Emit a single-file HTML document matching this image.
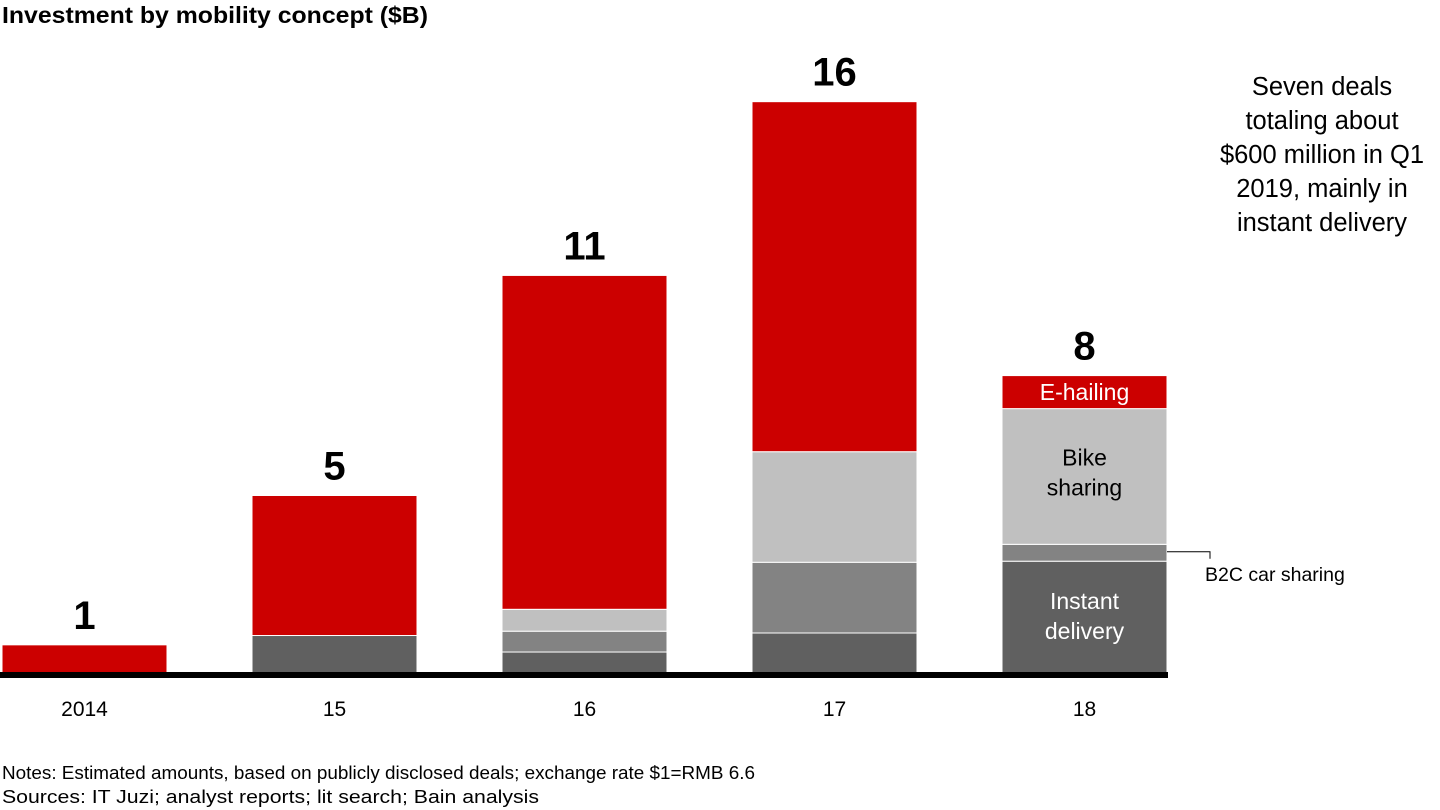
<!DOCTYPE html>
<html><head><meta charset="utf-8"><style>
body{margin:0;background:#fff;font-family:"Liberation Sans",Arial,sans-serif;}
svg{display:block}
</style></head><body>
<svg id="chart" width="1440" height="810" viewBox="0 0 1440 810">
<text x="2" y="23" font-size="23" font-weight="bold" fill="#000" textLength="426" lengthAdjust="spacingAndGlyphs">Investment by mobility concept ($B)</text>
<g id="bars"></g>
<rect x="0" y="672" width="1168" height="6" fill="#000"/>
<g font-size="25.5" fill="#000" text-anchor="middle">
<text x="1322" y="95">Seven deals</text>
<text x="1322" y="129">totaling about</text>
<text x="1322" y="163">$600 million in Q1</text>
<text x="1322" y="197">2019, mainly in</text>
<text x="1322" y="231">instant delivery</text>
</g>
<g font-size="18" fill="#000">
<text x="2" y="779" textLength="753" lengthAdjust="spacingAndGlyphs">Notes: Estimated amounts, based on publicly disclosed deals; exchange rate $1=RMB 6.6</text>
<text x="2" y="803" textLength="537" lengthAdjust="spacingAndGlyphs">Sources:  IT Juzi; analyst reports; lit search; Bain analysis</text>
</g>
</svg>
<script>
const categories=["2014","15","16","17","18"];
const totals=["1","5","11","16","8"];
const instantDelivery=[0,1.1,0.64,1.17,3.17];
const b2cCarSharing=[0,0,0.58,1.97,0.47];
const bikeSharing=[0,0,0.61,3.08,3.78];
const eHailing=[0.84,3.9,9.3,9.75,0.92];
const series=[instantDelivery,b2cCarSharing,bikeSharing,eHailing];
const seriesNames=["instant-delivery","b2c-car-sharing","bike-sharing","e-hailing"];
const colors=["#606060","#838383","#c0c0c0","#cc0000"];
const base=675,scale=35.9,x0=2,pitch=250,bw=165;
const yv=v=>base-v*scale;
const xc=i=>x0+i*pitch;
const g=document.getElementById('bars');
const NS="http://www.w3.org/2000/svg";
function mk(t,a){const e=document.createElementNS(NS,t);for(const k in a)e.setAttribute(k,a[k]);return e;}
let tops=[];
categories.forEach((c,i)=>{
  let cum=0;
  series.forEach((s,j)=>{
    const v=s[i]; if(v<=0)return;
    const r=mk('rect',{x:xc(i),y:yv(cum+v),width:bw,height:v*scale,fill:colors[j],stroke:'#fff','stroke-width':1});
    
    
    g.appendChild(r);
    cum+=v;
  });
  tops[i]=yv(cum);
  const t=mk('text',{x:xc(i)+bw/2,y:tops[i]-16,'font-size':40,'font-weight':'bold','text-anchor':'middle'});
  t.textContent=totals[i];
  
  
  g.appendChild(t);
  const l=mk('text',{x:xc(i)+bw/2,y:716,'font-size':21,'text-anchor':'middle'});
  l.textContent=c;
  
  
  g.appendChild(l);
});
const li=4,cx=xc(li)+bw/2;
function lbl(txt,y,col,name){const t=mk('text',{x:cx,y:y,'font-size':23,'text-anchor':'middle',fill:col});t.textContent=txt;g.appendChild(t);}
let c0=instantDelivery[li],c1=c0+b2cCarSharing[li],c2=c1+bikeSharing[li],c3=c2+eHailing[li];
const m0=(yv(0)+yv(c0))/2;
lbl("Instant",m0-9,"#fff","instant-delivery-label");
lbl("delivery",m0+21,"#fff","instant-delivery-label-2");
const m2=(yv(c1)+yv(c2))/2;
lbl("Bike",m2-11,"#000","bike-sharing-label");
lbl("sharing",m2+19,"#000","bike-sharing-label-2");
lbl("E-hailing",(yv(c2)+yv(c3))/2+8,"#fff","e-hailing-label");
const my=(yv(c0)+yv(c1))/2;
const pl=mk('polyline',{points:`${xc(li)+bw},${my-1} 1210,${my-1} 1210,${my+6}`,fill:'none',stroke:'#000','stroke-width':1});


g.appendChild(pl);
const bt=mk('text',{x:1205,y:581,'font-size':19.5});
bt.textContent="B2C car sharing";


g.appendChild(bt);
</script>
</body></html>
